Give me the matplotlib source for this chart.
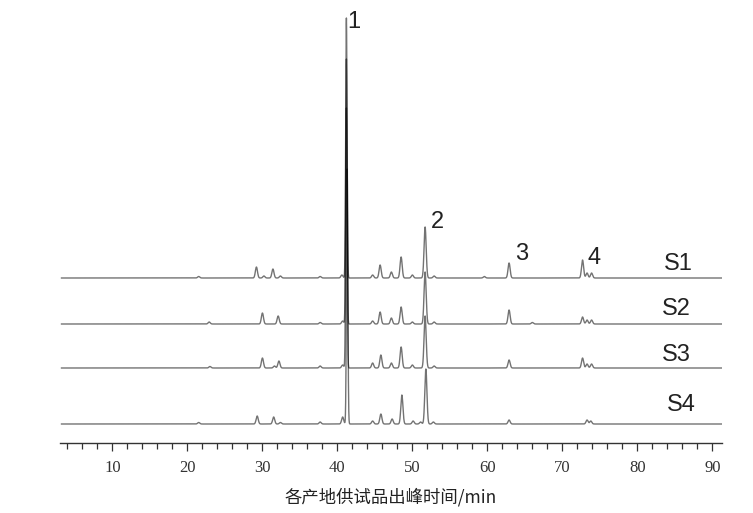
import numpy as np
import matplotlib
matplotlib.use("Agg")
import matplotlib.pyplot as plt
from matplotlib.ticker import MultipleLocator

# Chromatograms of the four samples, read off as peak tables
# (retention time in min, peak height in arbitrary units)
s1_times   = [21.5, 29.2, 30.2, 31.4, 32.4, 37.7, 40.6, 41.2, 44.7, 45.7, 47.2, 48.5, 50.0, 51.7, 52.9, 59.6, 62.9, 72.7, 73.3, 73.9]
s1_heights = [1.5, 11, 2, 9, 2, 1.5, 3, 260, 3, 13, 6, 21, 3, 51, 2, 1.5, 15, 18, 5, 5]

s2_times   = [22.9, 30.0, 32.1, 37.7, 40.7, 41.2, 44.7, 45.7, 47.2, 48.5, 50.0, 51.7, 52.9, 62.9, 66.0, 72.7, 73.3, 73.9]
s2_heights = [2, 11, 8, 1.5, 3, 265, 3, 12, 6, 17, 2, 52, 2, 14, 1.5, 7, 4, 4]

s3_times   = [23.0, 30.0, 31.6, 32.2, 37.7, 40.7, 41.2, 44.7, 45.8, 47.2, 48.5, 50.0, 51.7, 52.9, 62.9, 72.7, 73.3, 73.9]
s3_heights = [1.5, 10, 2, 7, 2, 3, 260, 5, 13, 5, 21, 3, 52, 2, 8, 10, 4, 4]

s4_times   = [21.5, 29.3, 31.5, 32.4, 37.7, 40.7, 41.3, 44.7, 45.8, 47.3, 48.6, 50.1, 51.1, 51.8, 52.8, 62.9, 73.3, 73.8]
s4_heights = [1.5, 8, 7, 1.5, 2, 7, 255, 3, 10, 5, 29, 3, 2, 55, 2, 4, 4, 3]

series_times = [s1_times, s2_times, s3_times, s4_times]
series_heights = [s1_heights, s2_heights, s3_heights, s4_heights]
series_names = ["S1", "S2", "S3", "S4"]
offsets = [146, 100, 56, 0]

peak_labels = ["1", "2", "3", "4"]

t = np.arange(3.2, 91.3, 0.01)


def trace(times, heights):
    y = np.zeros_like(t)
    for c, h in zip(times, heights):
        sig = 0.09 if h > 100 else 0.14
        y += h * np.exp(-0.5 * ((t - c) / sig) ** 2)
    return y


fig = plt.figure(figsize=(7.53, 5.13), dpi=100)
ax = fig.add_axes([60 / 753, (513 - 443) / 513, 662 / 753, 433 / 513])

for times, heights, off in zip(series_times, series_heights, offsets):
    ax.plot(t, trace(times, heights) + off, color="k", alpha=0.55, lw=1.0)

ax.set_xlim(3.0, 91.3)
ax.set_ylim(-19, 414)

for s in ["left", "right", "top"]:
    ax.spines[s].set_visible(False)
ax.spines["bottom"].set_color("#333333")
ax.spines["bottom"].set_linewidth(1.0)
ax.set_yticks([])
ax.xaxis.set_major_locator(MultipleLocator(10))
ax.xaxis.set_minor_locator(MultipleLocator(2))
ax.tick_params(axis="x", which="major", length=6, width=0.9, color="#333333", direction="out", pad=6)
ax.tick_params(axis="x", which="minor", length=4, width=0.9, color="#333333", direction="out")
for lab in ax.get_xticklabels():
    lab.set_fontfamily("Liberation Serif")
    lab.set_fontsize(12)
    lab.set_color("#333333")

ax.set_xlabel("各产地供试品出峰时间/min", family=["Noto Sans CJK SC", "DejaVu Sans"],
              fontsize=12.5, color="#222222", labelpad=9)

# peak numbers and sample names
num_pos = [(42.2, 402), (53.4, 202), (64.6, 170), (74.2, 166)]
for txt, (x, y) in zip(peak_labels, num_pos):
    ax.text(x, y, txt, family="Liberation Sans", fontsize=17, color="#222222",
            ha="center", va="center")

name_pos = [(85.5, 160), (85.2, 115), (85.2, 69), (85.9, 19)]
for txt, (x, y) in zip(series_names, name_pos):
    ax.text(x, y, txt, family="Liberation Sans", fontsize=17, color="#222222",
            ha="center", va="center")

fig.savefig("out.png", dpi=100)
